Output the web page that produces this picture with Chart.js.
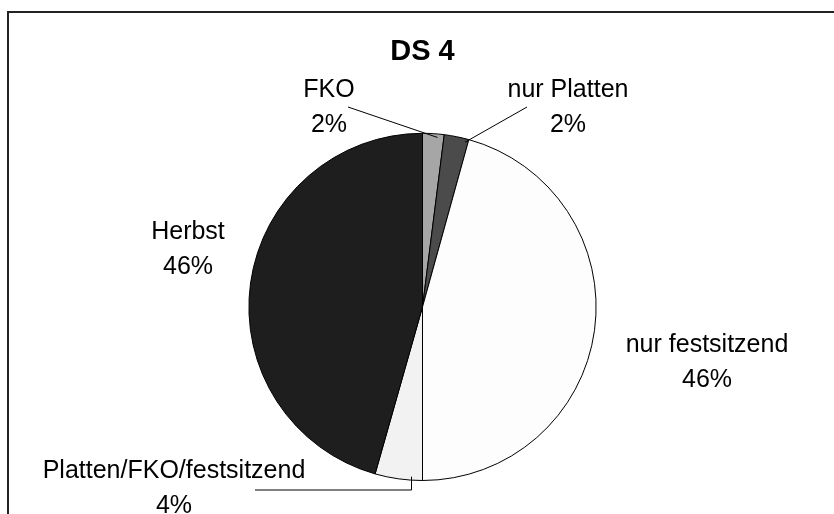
<!DOCTYPE html>
<html>
<head>
<meta charset="utf-8">
<script src="https://cdn.jsdelivr.net/npm/chart.js@4"></script>
<style>
  body { margin: 0; background: #fff; }
  #wrap { position: relative; width: 834px; height: 514px; overflow: hidden; }
  #frame { position: absolute; left: 7px; top: 11px; width: 900px; height: 600px;
           border-top: 2px solid #222; border-left: 2px solid #222; }
  canvas { position: absolute; left: 0; top: 0; }
</style>
</head>
<body>
<div id="wrap">
  <div id="frame"></div>
  <canvas id="pieChart" width="834" height="514"></canvas>
</div>
<script>
// DATA
let pieLabels = ["FKO", "nur Platten", "nur festsitzend", "Platten/FKO/festsitzend", "Herbst"];
let pieValues = [2.0, 2.3, 45.7, 4.4, 45.6];
let pieColors = ["#a6a6a6", "#4b4b4b", "#fdfdfd", "#f2f2f2", "#1e1e1e"];

// label placement (center x, baseline of first line)
let labelPos = [[329, 97], [568, 97], [707, 352], [174, 478], [188, 239]];
// leader lines: start point, where on the slice it ends (fraction of the angle), elbow or not
let leaders = [
    { from: [348, 107], frac: 0.7, elbow: false },
    { from: [527, 107], frac: 0.88, elbow: false },
    null,
    { from: [255, 490], frac: 0.24, elbow: true },
    null
];

let labelFont = "25px 'Liberation Sans', Arial, sans-serif";

let pieLabelPlugin = {
    id: 'pieLabels',
    afterDraw(chart) {
        let ctx = chart.ctx;
        let arcs = chart.getDatasetMeta(0).data;
        let total = pieValues.reduce((a, b) => a + b, 0);
        ctx.save();
        // leader lines
        ctx.strokeStyle = '#000';
        ctx.lineWidth = 1;
        for (let i = 0; i < arcs.length; i++) {
            let ld = leaders[i];
            if (!ld) continue;
            let arc = arcs[i];
            let a = arc.startAngle + ld.frac * (arc.endAngle - arc.startAngle);
            let r = arc.outerRadius * 0.98;
            let ex = arc.x + r * Math.cos(a);
            let ey = arc.y + r * Math.sin(a);
            ctx.beginPath();
            ctx.moveTo(ld.from[0], ld.from[1]);
            if (ld.elbow) ctx.lineTo(Math.round(ex) + 0.5, ld.from[1]);
            ctx.lineTo(ld.elbow ? Math.round(ex) + 0.5 : ex, ey);
            ctx.stroke();
        }
        // texts
        ctx.fillStyle = '#000';
        ctx.font = labelFont;
        ctx.textAlign = 'center';
        ctx.textBaseline = 'alphabetic';
        for (let i = 0; i < pieLabels.length; i++) {
            let pct = Math.round(pieValues[i] / total * 100) + '%';
            ctx.fillText(pieLabels[i], labelPos[i][0], labelPos[i][1]);
            ctx.fillText(pct, labelPos[i][0], labelPos[i][1] + 35);
        }
        ctx.restore();
    }
};

let pieCtx = document.getElementById('pieChart').getContext('2d');
let pieChart = new Chart(pieCtx, {
    type: 'pie',
    data: {
        labels: pieLabels,
        datasets: [{
            data: pieValues,
            backgroundColor: pieColors,
            borderColor: '#000',
            borderWidth: 1,
            hoverOffset: 0
        }]
    },
    options: {
        responsive: false,
        animation: false,
        layout: { padding: { left: 11, right: 0, top: 0, bottom: 33 } },
        plugins: {
            legend: { display: false },
            tooltip: { enabled: false },
            title: {
                display: true,
                text: 'DS 4',
                color: '#000',
                fullSize: false,
                font: { family: "'Liberation Sans', Arial, sans-serif", size: 29, weight: 'bold', lineHeight: 1.2 },
                padding: { top: 35, bottom: 63 }
            }
        }
    },
    plugins: [pieLabelPlugin]
});
</script>
</body>
</html>
